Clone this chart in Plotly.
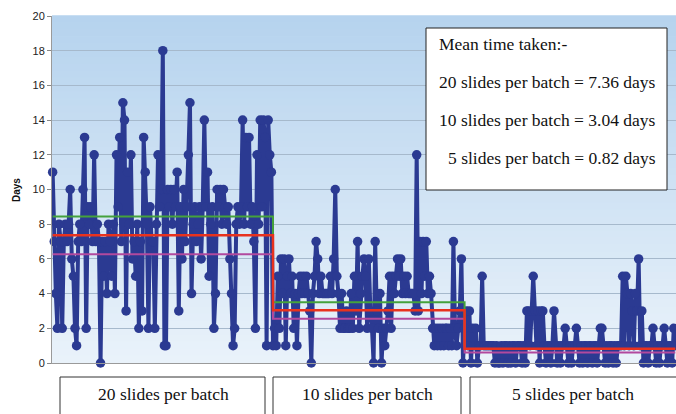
import plotly.graph_objects as go

# ---------------- data ----------------
phase1_days = [11, 7, 4, 2, 8, 7, 2, 7, 8, 7, 8, 10, 6, 5, 2, 1, 7, 8, 7, 10,
               13, 2, 9, 8, 9, 7, 12, 7, 8, 7, 0, 7, 5, 7, 4, 8, 7, 5, 8, 4,
               12, 9, 13, 7, 15, 14, 3, 11, 8, 12, 6, 7, 5, 8, 2, 7, 3, 13, 11, 8,
               2, 9, 7, 7, 2, 8, 12, 9, 10, 18, 1, 1, 10, 9, 10, 8, 10, 9, 11, 3,
               9, 6, 10, 7, 9, 12, 15, 4, 8, 9, 7, 8, 9, 6, 9, 14, 9, 11, 5, 8,
               9, 2, 4, 10, 9, 10, 8, 10, 9, 8, 9, 6, 4, 1, 2, 8, 9, 8, 9, 14,
               8, 13, 9, 13, 8, 9, 7, 2, 12, 8, 14, 9, 14, 13, 1, 14, 12, 11]
phase2_days = [1, 2, 1, 5, 2, 6, 4, 6, 1, 5, 6, 4, 5, 2, 4, 1, 4, 5, 4, 5,
               4, 5, 4, 3, 0, 4, 5, 7, 6, 4, 5, 4, 4, 4, 4, 4, 5, 4, 6, 10,
               5, 4, 2, 4, 2, 2, 3, 2, 2, 4, 2, 5, 3, 7, 2, 4, 5, 6, 5, 2,
               6, 3, 2, 0, 7, 3, 2, 4, 0, 2, 1, 2, 3, 5, 2, 5, 4, 5, 6, 5,
               6, 4, 5, 4, 5, 4, 4, 4, 4, 3, 12, 3, 7, 4, 7, 5, 7, 4, 5, 4,
               2, 1, 2, 1, 2, 1, 2, 1, 2, 2, 1, 2, 1, 7, 2, 1, 2, 3, 6, 0]
phase3_days = [2, 3, 1, 3, 0, 2, 1, 2, 0, 1, 1, 5, 1, 1, 1, 1, 1, 1, 1, 0,
               1, 0, 0, 1, 0, 1, 1, 0, 1, 0, 1, 1, 0, 1, 1, 1, 0, 1, 0, 3,
               3, 1, 3, 5, 3, 1, 3, 0, 3, 3, 1, 0, 1, 1, 0, 1, 3, 1, 0, 1,
               0, 1, 1, 2, 1, 0, 1, 0, 1, 1, 2, 1, 0, 1, 0, 1, 1, 0, 1, 1,
               0, 1, 1, 0, 1, 2, 2, 1, 0, 1, 0, 1, 1, 0, 1, 0, 1, 1, 1, 5,
               1, 5, 4, 1, 4, 3, 1, 4, 3, 6, 1, 3, 0, 1, 1, 0, 1, 1, 2, 1,
               0, 1, 0, 1, 1, 2, 1, 0, 1, 1, 0, 2, 1]

phase_labels = ["20 slides per batch", "10 slides per batch", "5 slides per batch"]
mean_days = [7.36, 3.04, 0.82]
upper_days = [8.45, 3.5, 1.0]
lower_days = [6.27, 2.55, 0.6]
y_ticks = [0, 2, 4, 6, 8, 10, 12, 14, 16, 18, 20]
box_title = "Mean time taken:-"

# ---------------- derived series ----------------
phases = [phase1_days, phase2_days, phase3_days]
days = phase1_days + phase2_days + phase3_days
x = list(range(len(days)))


def step_series(vals):
    out = []
    for v, ph in zip(vals, phases):
        out += [v] * len(ph)
    return out


mean_line = step_series(mean_days)
upper_line = step_series(upper_days)
lower_line = step_series(lower_days)
n12 = len(phase1_days) + len(phase2_days)
upper_top = [v if i <= n12 else None for i, v in enumerate(upper_line)]
upper_bottom = [v if i >= n12 else None for i, v in enumerate(upper_line)]

# ---------------- geometry helpers (pixels -> paper) ----------------
W, H = 676, 414
PL, PT, PW, PH = 52, 16, 624, 347


def px(v):
    return (v - PL) / PW


def py(v):
    return (PT + PH - v) / PH


BLUE = "#2B3A92"
GREEN = "#45A23C"
RED = "#E8321E"
PURPLE = "#B2499E"
SERIF = "Liberation Serif, Times New Roman, serif"

fig = go.Figure()

fig.add_trace(go.Scatter(x=x, y=upper_bottom, mode="lines", line=dict(color=GREEN, width=2, shape="hv"),
                         hoverinfo="skip"))
fig.add_trace(go.Scatter(x=x, y=days, mode="lines+markers", cliponaxis=False,
                         line=dict(color=BLUE, width=4),
                         marker=dict(color=BLUE, size=9.5)))
fig.add_trace(go.Scatter(x=x, y=upper_top, mode="lines", line=dict(color=GREEN, width=2, shape="hv"),
                         hoverinfo="skip"))
fig.add_trace(go.Scatter(x=x, y=lower_line, mode="lines", line=dict(color=PURPLE, width=2, shape="hv"),
                         hoverinfo="skip"))
fig.add_trace(go.Scatter(x=x, y=mean_line, mode="lines", line=dict(color=RED, width=2.5, shape="hv"),
                         hoverinfo="skip"))

shapes = []
# gradient plot background
top_c = (182, 211, 238)
bot_c = (233, 242, 250)
n = 50
for i in range(n):
    t = i / (n - 1)
    c = tuple(round(top_c[j] + (bot_c[j] - top_c[j]) * t) for j in range(3))
    shapes.append(dict(type="rect", xref="paper", yref="paper", x0=0, x1=1,
                       y0=1 - (i + 1) / n, y1=1 - i / n + 0.002,
                       fillcolor="rgb(%d,%d,%d)" % c, line=dict(width=0), layer="below"))
# info box
shapes.append(dict(type="rect", xref="paper", yref="paper", x0=px(426), x1=px(667),
                   y0=py(190), y1=py(28), fillcolor="white",
                   line=dict(color="#222222", width=1), layer="above"))
# bottom phase boxes
for x0, x1 in [(60, 265), (273, 461), (470, 690)]:
    shapes.append(dict(type="rect", xref="paper", yref="paper", x0=px(x0), x1=px(x1),
                       y0=py(422), y1=py(377), fillcolor="white",
                       line=dict(color="#333333", width=1), layer="above"))

annotations = []
box_lines = [box_title] + ["%s = %.2f days" % (lab, m) for lab, m in zip(phase_labels, mean_days)]
box_x = [437, 437, 437, 446]
box_y = [44, 82, 120, 158]
for t, bx, by in zip(box_lines, box_x, box_y):
    annotations.append(dict(text=t, xref="paper", yref="paper", x=px(bx), y=py(by),
                            xanchor="left", yanchor="middle", showarrow=False,
                            font=dict(family=SERIF, size=17.5, color="#111111")))
for lab, cx in zip(phase_labels, [163, 367, 573]):
    annotations.append(dict(text=lab, xref="paper", yref="paper", x=px(cx), y=py(394),
                            xanchor="center", yanchor="middle", showarrow=False,
                            font=dict(family=SERIF, size=17.5, color="#111111")))
annotations.append(dict(text="<b>Days</b>", xref="paper", yref="paper", x=px(16), y=py(190),
                        xanchor="center", yanchor="middle", showarrow=False, textangle=-90,
                        font=dict(family="Liberation Sans, Arial, sans-serif", size=10, color="#111111")))

fig.update_layout(
    width=W, height=H,
    margin=dict(l=PL, r=W - PL - PW, t=PT, b=H - PT - PH, pad=0),
    paper_bgcolor="white", plot_bgcolor="#D4E6F5",
    showlegend=False,
    shapes=shapes, annotations=annotations,
    xaxis=dict(range=[-0.4, len(days) - 0.6], showticklabels=False, ticks="",
               showgrid=False, zeroline=False, showline=True, linecolor="#9A9A9A", linewidth=1),
    yaxis=dict(range=[0, 20], tickvals=y_ticks, ticks="outside", ticklen=4, tickcolor="#888888",
               showgrid=True, gridcolor="#A6B9CC", gridwidth=1, zeroline=False,
               showline=True, linecolor="#9A9A9A", linewidth=1,
               tickfont=dict(family="Liberation Sans, Arial, sans-serif", size=11, color="#222222")),
)

fig.write_html("out.html", config={"displayModeBar": False},
               post_script="document.body.style.margin='0';document.body.style.overflow='hidden';")
